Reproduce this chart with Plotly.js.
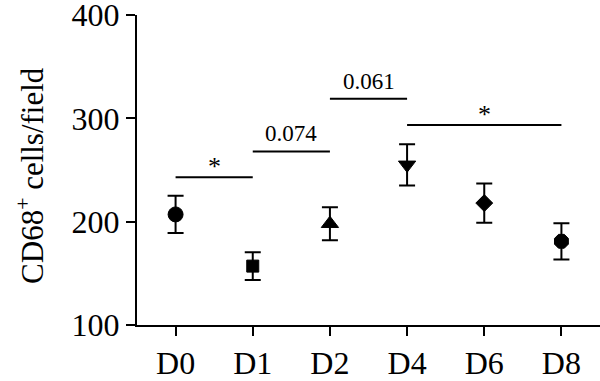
<!DOCTYPE html>
<html>
<head>
<meta charset="utf-8">
<script src="https://cdn.plot.ly/plotly-3.0.1.min.js"></script>
<style>html,body{margin:0;padding:0;background:#fff}#chart{width:600px;height:381px}</style>
</head>
<body>
<div id="chart"></div>
<script>
// Data
const categories = ['D0', 'D1', 'D2', 'D4', 'D6', 'D8'];
const means = [207, 157, 198, 255, 218, 181];
const sem = [18, 13.5, 16, 20, 19, 17.5];
// Significance comparisons: from index, to index, bar height, label
const compFrom = [0, 1, 2, 3];
const compTo = [1, 2, 3, 5];
const compY = [243, 268, 319, 293.5];
const compLabel = ['*', '0.074', '0.061', '*'];
const yTicks = [100, 200, 300, 400];
const yTitle = 'CD68<sup>+</sup> cells/field';

const symbols = ['circle', 'square', 'triangle-up', 'triangle-down', 'diamond', 'octagon'];
const sizes = [15, 12, 15, 15, 13, 15];
const font = 'Liberation Serif, Times New Roman, serif';

const trace = {
  type: 'scatter', mode: 'markers',
  x: categories.map((c, i) => i),
  y: means,
  marker: {symbol: symbols, size: sizes, color: '#000', opacity: 1, line: {width: 1, color: '#000'}},
  error_y: {type: 'data', array: sem, visible: true, color: '#000', thickness: 2, width: 8},
  hoverinfo: 'skip', showlegend: false, cliponaxis: false
};

const shapes = compFrom.map((f, i) => ({
  type: 'line', xref: 'x', yref: 'y',
  x0: f, x1: compTo[i], y0: compY[i], y1: compY[i],
  line: {color: '#000', width: 2}
}));
const annotations = compFrom.map((f, i) => ({
  xref: 'x', yref: 'y', x: (f + compTo[i]) / 2, y: compY[i],
  text: compLabel[i], showarrow: false, yanchor: 'bottom',
  yshift: compLabel[i] === '*' ? -6 : 3,
  font: {family: font, size: compLabel[i] === '*' ? 26 : 23, color: '#000'}
}));
annotations.push({
  xref: 'paper', yref: 'paper', x: -0.229, y: 0.484, xanchor: 'center', yanchor: 'middle',
  text: yTitle, textangle: -90, showarrow: false,
  font: {family: font, size: 31, color: '#000'}
});

const layout = {
  width: 600, height: 381,
  margin: {l: 137, r: 0, t: 15, b: 56},
  paper_bgcolor: '#fff', plot_bgcolor: '#fff',
  font: {family: font, color: '#000'},
  xaxis: {
    range: [-0.5, 5.5], tickmode: 'array', tickvals: categories.map((c, i) => i), ticktext: categories,
    showgrid: false, zeroline: false, showline: true, linecolor: '#000', linewidth: 2,
    ticks: 'outside', ticklen: 9, tickwidth: 2, tickcolor: '#000',
    tickfont: {family: font, size: 32, color: '#000'}, ticklabeloverflow: 'allow'
  },
  yaxis: {
    range: [100, 400], tickmode: 'array', tickvals: yTicks,
    showgrid: false, zeroline: false, showline: true, linecolor: '#000', linewidth: 2,
    ticks: 'outside', ticklen: 9, tickwidth: 2, tickcolor: '#000',
    tickfont: {family: font, size: 32, color: '#000'}, ticklabeloverflow: 'allow'
  },
  shapes: shapes,
  annotations: annotations
};

Plotly.newPlot('chart', [trace], layout, {displayModeBar: false, staticPlot: true});
</script>
</body>
</html>
